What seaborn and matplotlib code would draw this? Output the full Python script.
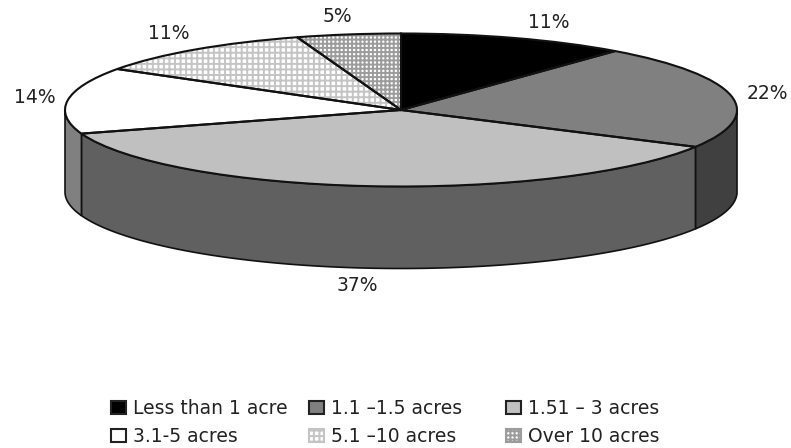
import numpy as np
import matplotlib
matplotlib.use("Agg")
import matplotlib.pyplot as plt
from matplotlib.patches import Patch, Polygon
import seaborn as sns

# Parcel size shares
categories = ["Less than 1 acre", "1.1 \u20131.5 acres", "1.51 \u2013 3 acres",
              "3.1-5 acres", "5.1 \u201310 acres", "Over 10 acres"]
shares = [11, 22, 37, 14, 11, 5]

top_colors = ["#000000", "#808080", "#c0c0c0", "#ffffff", "#ffffff", "#ffffff"]
side_colors = ["#000000", "#404040", "#606060", "#808080", "#808080", "#808080"]
hatches = [None, None, None, None, "|||---", "++++"]
hatch_colors = ["#000000", "#000000", "#000000", "#000000", "#c4c4c4", "#9c9c9c"]

# Where the percentage labels sit, in pie units (x, y)
label_anchors = [(0.44, 1.15), (1.09, 0.22), (-0.13, -2.29),
                 (-1.09, 0.16), (-0.69, 1.00), (-0.19, 1.22)]

sns.set_theme(style="white")
plt.rcParams["font.family"] = ["DejaVu Sans"]
plt.rcParams["hatch.linewidth"] = 1.4

WIDTH, HEIGHT = 791, 448
CX, CY, RX, RY = 401, 110, 336, 76.5
DEPTH = 82 / RY
INK = "#111111"

fig = plt.figure(figsize=(WIDTH / 100, HEIGHT / 100), dpi=100)
ax = fig.add_axes([0, 0, 1, 1])

# Flat top of the pie: fills first, then outlines so hatching can stay grey
palette = sns.color_palette(top_colors)
fills, _ = ax.pie(shares, colors=palette, startangle=90, counterclock=False,
                  radius=1, center=(0, 0),
                  wedgeprops={"linewidth": 0, "zorder": 3})
for wedge, hatch, hatch_color in zip(fills, hatches, hatch_colors):
    if hatch:
        wedge.set_hatch(hatch)
        wedge.set_edgecolor(hatch_color)
outlines, _ = ax.pie(shares, colors=palette, startangle=90, counterclock=False,
                     radius=1, center=(0, 0),
                     wedgeprops={"fill": False, "edgecolor": INK,
                                 "linewidth": 1.5, "zorder": 4})

# Stretch the unit circle into a tilted ellipse
ax.set_aspect("auto")
ax.set_xlim(-CX / RX, (WIDTH - CX) / RX)
ax.set_ylim((CY - HEIGHT) / RY, CY / RY)
ax.axis("off")

# Cylinder wall for the part of each slice facing the viewer
edges = np.cumsum([0] + shares) / sum(shares) * 360
for start, stop, color in zip(edges[:-1], edges[1:], side_colors):
    lo, hi = max(start, 90), min(stop, 270)
    if hi <= lo:
        continue
    theta = np.radians(np.linspace(lo, hi, 80))
    x, y = np.sin(theta), np.cos(theta)
    outline = np.r_[np.c_[x, y], np.c_[x[::-1], y[::-1] - DEPTH]]
    ax.add_patch(Polygon(outline, closed=True, facecolor=color, edgecolor=INK,
                         linewidth=1.2, zorder=2))

for value, (lx, ly) in zip(shares, label_anchors):
    ax.text(lx, ly, f"{value}%", ha="center", va="center",
            fontsize=13.5, color="#222222", zorder=5)


def swatch(index):
    return Patch(facecolor=top_colors[index], edgecolor=hatch_colors[index]
                 if hatches[index] else "#222222",
                 hatch=hatches[index], linewidth=1.5)


# One legend per column so that each column keeps its own left edge
column_lefts = [107, 305, 502]
for col, left in enumerate(column_lefts):
    rows = [col, col + 3]
    legend = ax.legend([swatch(i) for i in rows], [categories[i] for i in rows],
                       loc="upper left",
                       bbox_to_anchor=(left / WIDTH, 1 - 395 / HEIGHT),
                       bbox_transform=fig.transFigure, frameon=False,
                       fontsize=13.5, handlelength=0.8, handleheight=0.7,
                       handletextpad=0.4, labelspacing=0.48,
                       borderpad=0.2, borderaxespad=0)
    for text in legend.get_texts():
        text.set_color("#222222")
    ax.add_artist(legend)
    ax.legend_ = None

fig.savefig("out.png", dpi=100, facecolor="white")
